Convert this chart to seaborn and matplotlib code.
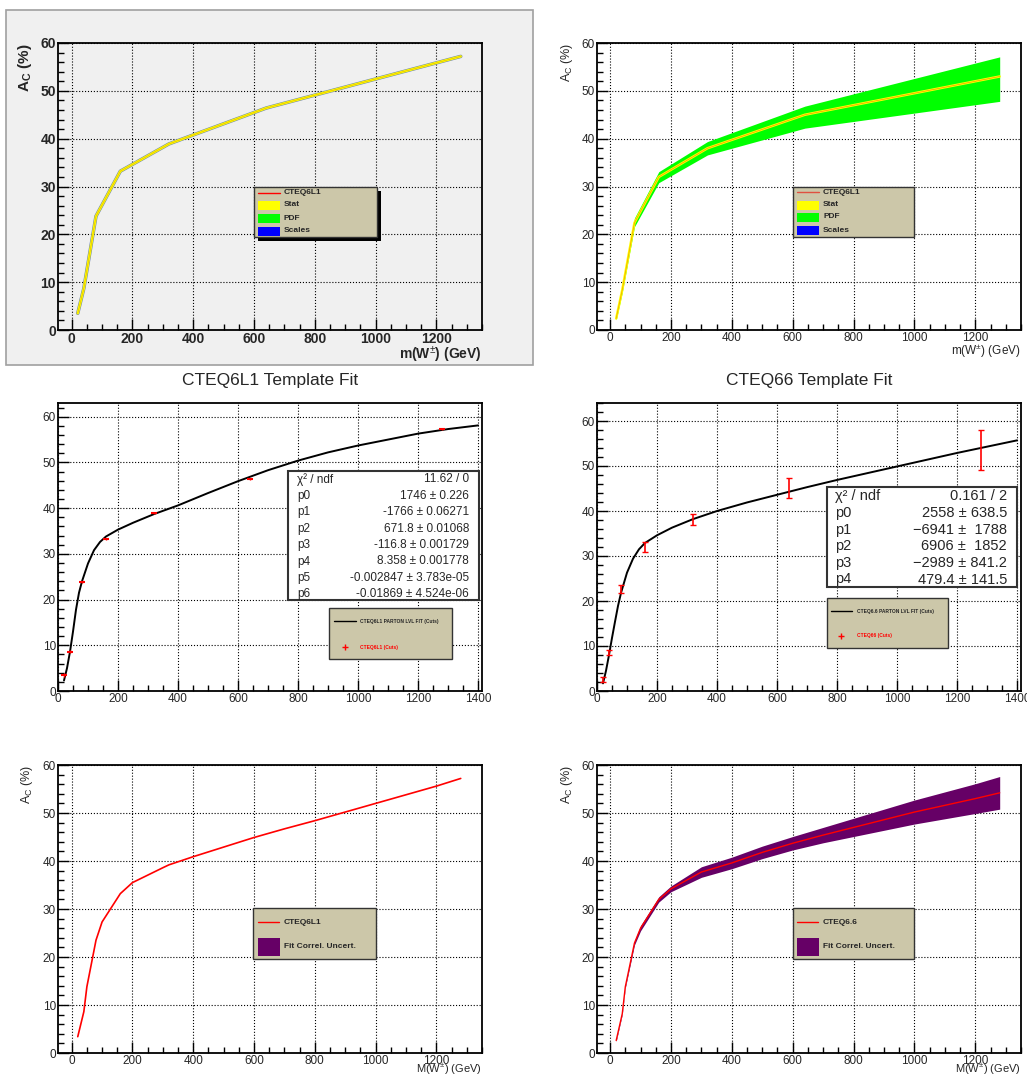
import matplotlib
matplotlib.use("Agg")
import matplotlib.pyplot as plt
import seaborn as sns
from matplotlib.lines import Line2D
from matplotlib.patches import Rectangle
from matplotlib.ticker import MultipleLocator

sns.set_theme(style="ticks")
plt.rcParams["font.family"] = ["Liberation Sans", "DejaVu Sans"]
plt.rcParams["mathtext.fontset"] = "custom"
plt.rcParams["mathtext.rm"] = "Liberation Sans"
plt.rcParams["mathtext.bf"] = "Liberation Sans:bold"
plt.rcParams["mathtext.it"] = "Liberation Sans:italic"

# --- generated mass points (GeV)
mass_pts = [20, 40, 80, 160, 320, 640, 1280]

# --- top row: predictions
ac_cteq6l1 = [3.5, 8.7, 23.8, 33.2, 38.9, 46.4, 57.2]
ac_cteq66 = [2.4, 8.4, 22.4, 32.0, 38.0, 45.0, 53.0]
pdf_lo_cteq66 = [2.1, 7.9, 21.6, 30.8, 36.6, 42.2, 47.8]
pdf_hi_cteq66 = [2.8, 9.0, 23.4, 33.1, 39.4, 46.8, 57.1]

# --- middle row: template fits
fit_mass = [20, 30, 40, 50, 60, 70, 80, 100, 120, 140, 160, 200, 250, 320,
            400, 500, 600, 700, 800, 900, 1000, 1100, 1200, 1300, 1400]
fit_cteq6l1 = [2.3, 5.0, 8.6, 13.0, 17.8, 21.5, 24.0, 27.9, 30.8, 32.6, 33.8,
               35.3, 36.8, 38.7, 40.6, 43.3, 45.9, 48.3, 50.4, 52.2, 53.7,
               55.0, 56.3, 57.3, 58.1]
fit_cteq66 = [1.7, 4.5, 8.0, 11.8, 15.4, 18.9, 21.8, 26.3, 29.4, 31.5, 32.9,
              34.6, 36.3, 38.2, 40.0, 41.9, 43.6, 45.3, 46.9, 48.4, 49.9,
              51.4, 52.9, 54.3, 55.7]
pts_cteq6l1 = [3.5, 8.6, 23.8, 33.3, 39.0, 46.4, 57.3]
err_cteq6l1 = [0.4, 0.3, 0.2, 0.2, 0.2, 0.2, 0.2]
pts_cteq66 = [2.6, 8.6, 22.7, 32.0, 38.1, 45.2, 53.6]
err_cteq66 = [0.5, 0.6, 0.85, 1.1, 1.3, 2.2, 4.5]

stat_names_l1 = ["χ² / ndf", "p0", "p1", "p2", "p3", "p4", "p5", "p6"]
stat_vals_l1 = ["11.62 / 0", "1746 ± 0.226", "-1766 ± 0.06271",
                "671.8 ± 0.01068", "-116.8 ± 0.001729", "8.358 ± 0.001778",
                "-0.002847 ± 3.783e-05", "-0.01869 ± 4.524e-06"]
stat_names_66 = ["χ² / ndf", "p0", "p1", "p2", "p3", "p4"]
stat_vals_66 = ["0.161 / 2", "2558 ± 638.5", "−6941 ±  1788",
                "6906 ±  1852", "−2989 ± 841.2", "479.4 ± 141.5"]

# --- bottom row: fit with correlated uncertainty
corr_mass_l1 = [20, 40, 50, 80, 100, 160, 200, 300, 320, 400, 500, 600, 700,
                800, 900, 1000, 1100, 1200, 1280]
corr_cteq6l1 = [3.4, 8.6, 13.8, 23.5, 27.3, 33.2, 35.5, 38.6, 39.2, 40.9,
                42.9, 44.9, 46.7, 48.4, 50.2, 52.0, 53.8, 55.6, 57.2]
corr_mass_66 = [20, 40, 50, 80, 100, 160, 200, 300, 400, 500, 600, 700, 800,
                900, 1000, 1100, 1200, 1280]
corr_cteq66 = [2.6, 8.2, 13.8, 22.9, 26.0, 32.0, 34.2, 37.7, 39.6, 41.8,
               43.7, 45.4, 47.0, 48.6, 50.2, 51.6, 53.0, 54.2]
corr_lo_66 = [2.4, 8.0, 13.55, 22.5, 25.45, 31.45, 33.6, 36.6, 38.4, 40.5,
              42.3, 43.8, 45.1, 46.4, 47.7, 48.8, 49.9, 50.8]
corr_hi_66 = [2.8, 8.4, 14.05, 23.3, 26.55, 32.55, 34.8, 38.8, 40.8, 43.1,
              45.1, 47.0, 48.9, 50.8, 52.7, 54.4, 56.1, 57.6]

W, H = 1027, 1077
fig = plt.figure(figsize=(W / 100, H / 100), dpi=100)
fig.patch.set_facecolor("white")

LEG_FILL = "#ccc7a9"
PURPLE = "#660066"


def fx(x):
    return x / W


def fy(y):
    return 1 - y / H


def box_axes(x0, y0, x1, y1, **kw):
    return fig.add_axes([fx(x0), fy(y1), (x1 - x0) / W, (y1 - y0) / H], **kw)


def root_style(ax, xlim, ylim, xticks, fs, bold=False):
    ax.set_xlim(*xlim)
    ax.set_ylim(*ylim)
    wt = "bold" if bold else "normal"
    ax.set_xticks(xticks, [str(v) for v in xticks], fontweight=wt, fontsize=fs)
    yt = [0, 10, 20, 30, 40, 50, 60]
    ax.set_yticks(yt, [str(v) for v in yt], fontweight=wt, fontsize=fs)
    ax.xaxis.set_minor_locator(MultipleLocator(50))
    ax.yaxis.set_minor_locator(MultipleLocator(2))
    ax.grid(True, which="major", ls=":", color="black", lw=0.8)
    ax.set_axisbelow(True)
    ax.tick_params(which="both", direction="in", top=False, right=False,
                   width=1, color="black", pad=1.5)
    ax.tick_params(which="major", length=8)
    ax.tick_params(which="minor", length=4)
    for s in ax.spines.values():
        s.set_linewidth(1.3)
        s.set_color("black")


def fig_line(x0, x1, y, color, lw):
    fig.add_artist(Line2D([fx(x0), fx(x1)], [fy(y), fy(y)],
                          transform=fig.transFigure, color=color, lw=lw, zorder=5))


def fig_rect(x0, y0, x1, y1, fc, ec="none", lw=0, z=5):
    fig.add_artist(Rectangle((fx(x0), fy(y1)), (x1 - x0) / W, (y1 - y0) / H,
                             transform=fig.transFigure, fc=fc, ec=ec, lw=lw,
                             zorder=z))


def fig_txt(x, y, s, **kw):
    fig.text(fx(x), fy(y), s, zorder=6, **kw)


def legend_box(x0, y0, x1, y1, shadow=False):
    if shadow:
        fig_rect(x0 + 4, y0 + 4, x1 + 4, y1 + 4, "black", z=4)
    fig_rect(x0, y0, x1, y1, LEG_FILL, ec="#333333", lw=1.0, z=4.5)


def stat_box(x0, y0, x1, y1, names, vals, ys, xn, xv, fs):
    fig_rect(x0, y0, x1, y1, "white", ec="#333333", lw=1.5, z=4.5)
    for n, v, yy in zip(names, vals, ys):
        fig_txt(xn, yy, n, ha="left", va="center_baseline", fontsize=fs)
        fig_txt(xv, yy, v, ha="right", va="center_baseline", fontsize=fs)


# gray canvas behind the top-left pad
fig.add_artist(Rectangle((fx(6), fy(365)), 527 / W, 355 / H,
                         transform=fig.transFigure, fc="#f0f0f0",
                         ec="#a0a0a0", lw=1.2, zorder=-1))

xt_top = [0, 200, 400, 600, 800, 1000, 1200]
xt_mid = [0, 200, 400, 600, 800, 1000, 1200, 1400]

# ===============================
# top-left: CTEQ6L1
# ===============================
ax = box_axes(58, 43, 482, 330, facecolor="#f0f0f0")
sns.lineplot(x=mass_pts, y=ac_cteq6l1, ax=ax, color="#6a80b0", lw=2.5,
             estimator=None, sort=False, legend=False)
sns.lineplot(x=mass_pts, y=ac_cteq6l1, ax=ax, color="yellow", lw=1.8,
             estimator=None, sort=False, legend=False)
sns.lineplot(x=mass_pts, y=ac_cteq6l1, ax=ax, color="#e8b000", lw=0.4,
             estimator=None, sort=False, legend=False)
root_style(ax, (-45, 1350), (0, 60), xt_top, 10, bold=True)
fig_txt(25, 43, r"A$_\mathbf{C}$ (%)", rotation=90, ha="center", va="top",
        fontsize=11, fontweight="bold")
fig_txt(482, 359, r"m(W$^{\pm}$) (GeV)", ha="right", va="baseline",
        fontsize=10, fontweight="bold")

legend_box(254, 187, 377, 237, shadow=True)
fig_line(258, 280, 193, "red", 1.0)
for yy, c in zip([205, 218, 231], ["yellow", "#00ff00", "blue"]):
    fig_rect(258, yy - 4.5, 280, yy + 4.5, c, z=5)
for yy, s in zip([193, 205, 218, 231], ["CTEQ6L1", "Stat", "PDF", "Scales"]):
    fig_txt(284, yy, s, ha="left", va="center", fontsize=6, fontweight="bold")

# ===============================
# top-right: CTEQ66 with PDF band
# ===============================
ax = box_axes(597, 43, 1021, 330)
ax.fill_between(mass_pts, pdf_lo_cteq66, pdf_hi_cteq66, color="#00ff00", lw=0)
sns.lineplot(x=mass_pts, y=ac_cteq66, ax=ax, color="yellow", lw=1.8,
             estimator=None, sort=False, legend=False)
sns.lineplot(x=mass_pts, y=ac_cteq66, ax=ax, color="#f0a000", lw=0.5,
             estimator=None, sort=False, legend=False)
root_style(ax, (-43, 1350), (0, 60), xt_top, 8.5)
fig_txt(567, 43, r"A$_\mathrm{C}$ (%)", rotation=90, ha="center", va="top",
        fontsize=9)
fig_txt(1021, 355, r"m(W$^{\pm}$) (GeV)", ha="right", va="baseline", fontsize=8.5)

legend_box(793, 187, 914, 237)
fig_line(797, 819, 192, "#e05040", 1.0)
for yy, c in zip([205, 217, 230], ["yellow", "#00ff00", "blue"]):
    fig_rect(797, yy - 4.5, 819, yy + 4.5, c, z=5)
for yy, s in zip([192, 205, 217, 230], ["CTEQ6L1", "Stat", "PDF", "Scales"]):
    fig_txt(823, yy, s, ha="left", va="center", fontsize=6, fontweight="bold")

# ===============================
# middle-left: CTEQ6L1 template fit
# ===============================
ax = box_axes(58, 403, 482, 691)
sns.lineplot(x=fit_mass, y=fit_cteq6l1, ax=ax, color="black", lw=1.4,
             estimator=None, sort=False, legend=False)
ax.errorbar(mass_pts, pts_cteq6l1, yerr=err_cteq6l1, fmt="_", color="red",
            ms=5, mew=1.5, elinewidth=1.0, capsize=0)
root_style(ax, (0, 1413), (0, 63), xt_mid, 8.5)
fig_txt(270, 380, "CTEQ6L1 Template Fit", ha="center", va="center", fontsize=12.5)

stat_box(288, 471, 479, 600, stat_names_l1, stat_vals_l1,
         [478 + 16.4 * i for i in range(8)], 297, 469, 8.5)
legend_box(329, 608, 452, 659)
fig_line(334, 356, 621, "black", 1.0)
fig_txt(360, 621, "CTEQ6L1 PARTON LVL FIT (Cuts)", ha="left", va="center",
        fontsize=3.5, fontweight="bold")
fig.add_artist(Line2D([fx(345)], [fy(647)], transform=fig.transFigure,
                      marker="+", color="red", ms=5, mew=1.0, zorder=5))
fig_txt(360, 647, "CTEQ6L1 (Cuts)", ha="left", va="center", fontsize=3.5,
        fontweight="bold", color="red")

# ===============================
# middle-right: CTEQ66 template fit
# ===============================
ax = box_axes(597, 403, 1021, 691)
sns.lineplot(x=fit_mass, y=fit_cteq66, ax=ax, color="black", lw=1.4,
             estimator=None, sort=False, legend=False)
ax.errorbar(mass_pts, pts_cteq66, yerr=err_cteq66, fmt="none", ecolor="red",
            elinewidth=1.2, capsize=2, capthick=1.0)
root_style(ax, (0, 1413), (0, 64), xt_mid, 8.5)
fig_txt(809, 380, "CTEQ66 Template Fit", ha="center", va="center", fontsize=12.5)

stat_box(827, 487, 1017, 587, stat_names_66, stat_vals_66,
         [495 + 16.6 * i for i in range(6)], 835, 1007, 10.5)
legend_box(827, 598, 948, 648)
fig_line(831, 852, 611, "black", 1.0)
fig_txt(857, 611, "CTEQ6.6 PARTON LVL FIT (Cuts)", ha="left", va="center",
        fontsize=3.5, fontweight="bold")
fig.add_artist(Line2D([fx(841)], [fy(636)], transform=fig.transFigure,
                      marker="+", color="red", ms=5, mew=1.0, zorder=5))
fig_txt(857, 636, "CTEQ66 (Cuts)", ha="left", va="center", fontsize=3.5,
        fontweight="bold", color="red")

# ===============================
# bottom-left: CTEQ6L1 fit
# ===============================
ax = box_axes(58, 765, 482, 1053)
sns.lineplot(x=corr_mass_l1, y=corr_cteq6l1, ax=ax, color="red", lw=1.2,
             estimator=None, sort=False, legend=False)
root_style(ax, (-45, 1350), (0, 60), xt_top, 8.5)
fig_txt(27, 765, r"A$_\mathrm{C}$ (%)", rotation=90, ha="center", va="top",
        fontsize=9)
fig_txt(482, 1073, r"M(W$^{\pm}$) (GeV)", ha="right", va="baseline", fontsize=8)

legend_box(253, 908, 376, 959)
fig_line(258, 279, 922, "red", 1.0)
fig_rect(258, 938, 280, 956, PURPLE, z=5)
fig_txt(284, 922, "CTEQ6L1", ha="left", va="center", fontsize=6, fontweight="bold")
fig_txt(284, 947, "Fit Correl. Uncert.", ha="left", va="center", fontsize=6,
        fontweight="bold")

# ===============================
# bottom-right: CTEQ6.6 fit with band
# ===============================
ax = box_axes(597, 765, 1021, 1053)
ax.fill_between(corr_mass_66, corr_lo_66, corr_hi_66, color=PURPLE, lw=0)
sns.lineplot(x=corr_mass_66, y=corr_cteq66, ax=ax, color="red", lw=1.0,
             estimator=None, sort=False, legend=False)
root_style(ax, (-43, 1350), (0, 60), xt_top, 8.5)
fig_txt(567, 765, r"A$_\mathrm{C}$ (%)", rotation=90, ha="center", va="top",
        fontsize=9)
fig_txt(1021, 1073, r"M(W$^{\pm}$) (GeV)", ha="right", va="baseline", fontsize=8)

legend_box(793, 908, 914, 959)
fig_line(797, 818, 922, "red", 1.0)
fig_rect(797, 938, 819, 956, PURPLE, z=5)
fig_txt(823, 922, "CTEQ6.6", ha="left", va="center", fontsize=6, fontweight="bold")
fig_txt(823, 947, "Fit Correl. Uncert.", ha="left", va="center", fontsize=6,
        fontweight="bold")

fig.savefig("out.png", dpi=100)
